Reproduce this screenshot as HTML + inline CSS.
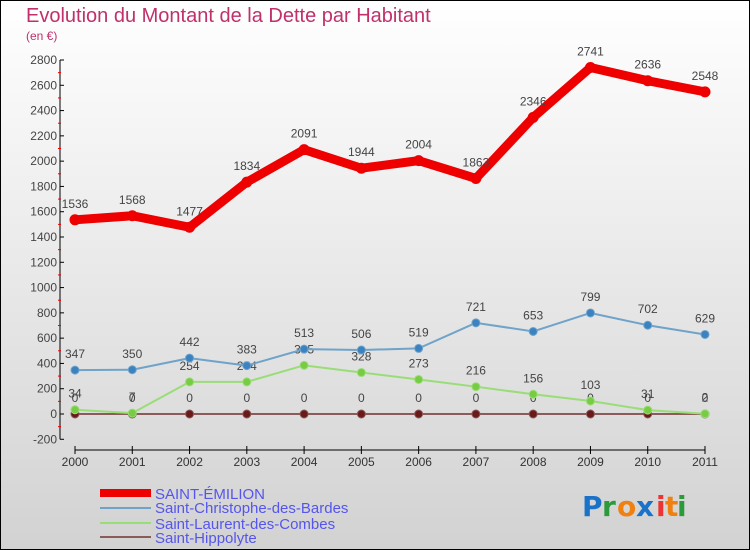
<!DOCTYPE html>
<html><head><meta charset="utf-8"><style>
body{margin:0;width:750px;height:550px;overflow:hidden;font-family:"Liberation Sans",sans-serif}
svg{display:block}
</style></head><body>
<svg width="750" height="550" viewBox="0 0 750 550">
<defs><linearGradient id="bg" x1="0" y1="0" x2="0" y2="1"><stop offset="0" stop-color="#ffffff"/><stop offset="1" stop-color="#d2d2d2"/></linearGradient></defs>
<rect x="0.5" y="0.5" width="749" height="549" fill="url(#bg)" stroke="#000"/>
<text x="26" y="22" font-size="20" fill="#c0306a">Evolution du Montant de la Dette par Habitant</text>
<text x="26" y="40" font-size="12" fill="#c0306a">(en €)</text>
<g id="axes"></g>
<g id="series"></g>
<g>
<rect x="100" y="489" width="51" height="8" fill="#e00"/>
<text x="155" y="499" font-size="15" fill="#5555ee">SAINT-ÉMILION</text>
<line x1="100" y1="508" x2="151" y2="508" stroke="#6fa3c9" stroke-width="2"/>
<text x="155" y="513" font-size="15" fill="#5555ee">Saint-Christophe-des-Bardes</text>
<line x1="100" y1="523" x2="151" y2="523" stroke="#99dd77" stroke-width="2"/>
<text x="155" y="529" font-size="15" fill="#5555ee">Saint-Laurent-des-Combes</text>
<line x1="100" y1="537" x2="151" y2="537" stroke="#8b5a5a" stroke-width="2"/>
<text x="155" y="543" font-size="15" fill="#5555ee">Saint-Hippolyte</text>
</g>
<g font-size="28" font-weight="bold" font-family="'DejaVu Sans',sans-serif">
<text x="582" y="516" fill="#1a73c9">P</text><text x="602" y="516" fill="#2a9a3a">r</text><text x="617" y="516" fill="#f08010">o</text><text x="636" y="516" fill="#1a73c9">x</text><text x="656" y="516" fill="#e33">i</text><text x="665" y="516" fill="#f08010">t</text><text x="677" y="516" fill="#2a9a3a">i</text>
</g>
</svg>
<script>
const years=["2000","2001","2002","2003","2004","2005","2006","2007","2008","2009","2010","2011"];
const yTicks=[-200,0,200,400,600,800,1000,1200,1400,1600,1800,2000,2200,2400,2600,2800];
const emilion=[1536,1568,1477,1834,2091,1944,2004,1863,2346,2741,2636,2548];
const christophe=[347,350,442,383,513,506,519,721,653,799,702,629];
const laurent=[34,7,254,254,385,328,273,216,156,103,31,2];
const hippolyte=[0,0,0,0,0,0,0,0,0,0,0,0];
const NS="http://www.w3.org/2000/svg";
function xS(i){return 75+i*(630/11);}
function yS(v){return 414-v*(354/2800);}
function mk(tag,attrs,parent){const e=document.createElementNS(NS,tag);for(const k in attrs)e.setAttribute(k,attrs[k]);parent.appendChild(e);return e;}
const ax=document.getElementById('axes');
let yl=mk('line',{x1:60,y1:yS(2800),x2:60,y2:yS(-200),stroke:'#000'},ax);


yTicks.forEach(v=>{
 const y=yS(v);
 const t=mk('line',{x1:60,y1:y,x2:64,y2:y,stroke:'#000'},ax);
 
 
 const m=mk('line',{x1:58,y1:yS(v+100),x2:61,y2:yS(v+100),stroke:'#e00'},ax);
 if(v===2800)m.remove();
 const l=mk('text',{x:57,y:y+4,'font-size':12,'text-anchor':'end',fill:'#444'},ax);
 l.textContent=v;
 
 
});
let xl=mk('line',{x1:75,y1:450,x2:705,y2:450,stroke:'#000'},ax);


years.forEach((yr,i)=>{
 mk('line',{x1:xS(i),y1:446,x2:xS(i),y2:454,stroke:'#000'},ax);
 const l=mk('text',{x:xS(i),y:466,'font-size':12,'text-anchor':'middle',fill:'#333'},ax);
 l.textContent=yr;
 
 
});
const sg=document.getElementById('series');
function series(data,name,color,w,dotFill,r){
 const g=mk('g',{},sg);
 
 
 const p=mk('polyline',{points:data.map((v,i)=>xS(i)+','+yS(v)).join(' '),fill:'none',stroke:color,'stroke-width':w,'stroke-linejoin':'round'},g);
 
 
 data.forEach((v,i)=>{
  const c=mk('circle',{cx:xS(i),cy:yS(v),r:r,fill:dotFill,stroke:color,'stroke-width':1},g);
  
  
  const t=mk('text',{x:xS(i),y:yS(v)-12,'font-size':12,'text-anchor':'middle',fill:'#444'},g);
  t.textContent=v;
  
  
 });
}
series(hippolyte,'hippolyte','#8b5a5a',2,'#6b1a1a',4);
series(laurent,'laurent','#99dd77',2,'#77cc44',4);
series(christophe,'christophe','#6fa3c9',2,'#3a82c0',4);
series(emilion,'saint-emilion','#e00',9,'#e00',5);
</script>
</body></html>
